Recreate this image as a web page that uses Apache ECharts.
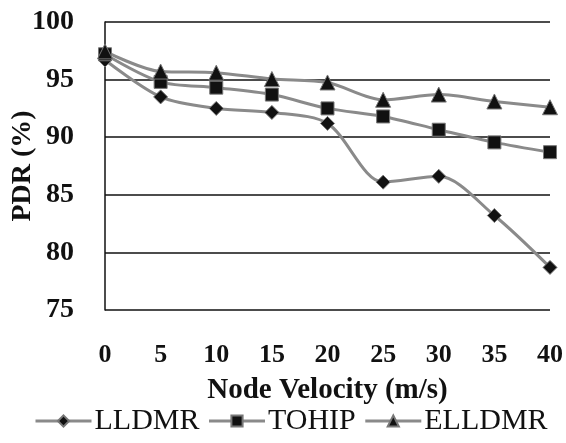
<!DOCTYPE html>
<html>
<head>
<meta charset="utf-8">
<script src="https://cdn.jsdelivr.net/npm/echarts@6/dist/echarts.min.js"></script>
<style>
  html, body { margin: 0; padding: 0; background: #fff; }
  #chart { width: 566px; height: 443px; }
</style>
</head>
<body>
<div id="chart"></div>
<script>
const velocities = ['0', '5', '10', '15', '20', '25', '30', '35', '40']
const lldmr = [96.7, 93.5, 92.5, 92.15, 91.2, 86.1, 86.6, 83.2, 78.7]
const tohip = [97.2, 94.8, 94.3, 93.7, 92.5, 91.8, 90.65, 89.55, 88.7]
const elldmr = [97.45, 95.7, 95.6, 95.05, 94.75, 93.25, 93.7, 93.1, 92.6]

const font = '"Liberation Serif", "Times New Roman", serif'

const chart = echarts.init(document.getElementById('chart'))

function lineSeries(name, data, symbol, size) {
  return {
    name,
    type: 'line',
    data,
    smooth: 0.3,
    symbol,
    symbolSize: size,
    lineStyle: { color: '#8a8a8a', width: 3 },
    itemStyle: { color: '#111', borderColor: '#777', borderWidth: 1 },
  }
}

chart.setOption({
  animation: false,
  backgroundColor: '#fff',
  grid: { left: 105, right: 16, top: 22, bottom: 133, outerBoundsMode: 'none' },
  xAxis: {
    type: 'category',
    data: velocities,
    boundaryGap: false,
    name: 'Node Velocity (m/s)',
    nameLocation: 'middle',
    nameGap: 66,
    nameMoveOverlap: false,
    nameTextStyle: { fontFamily: font, fontWeight: 'bold', fontSize: 29, color: '#111' },
    axisLine: { show: false },
    axisTick: { show: false },
    axisLabel: { margin: 32, fontFamily: font, fontWeight: 'bold', fontSize: 26, color: '#111' },
    splitLine: { show: false },
  },
  yAxis: {
    type: 'value',
    min: 75,
    max: 100,
    interval: 5,
    name: 'PDR (%)',
    nameLocation: 'middle',
    nameGap: 68,
    nameMoveOverlap: false,
    nameTextStyle: { fontFamily: font, fontWeight: 'bold', fontSize: 28, color: '#111' },
    axisLine: { show: true, lineStyle: { color: '#111', width: 1.5 } },
    axisTick: { show: false },
    axisLabel: { margin: 31, fontFamily: font, fontWeight: 'bold', fontSize: 28, color: '#111' },
    splitLine: { lineStyle: { color: '#111', width: 1.5 } },
  },
  legend: {
    bottom: 7,
    left: 34,
    width: 532,
    padding: 0,
    itemWidth: 56,
    itemHeight: 14,
    itemGap: 8,
    lineStyle: { width: 3, color: '#8a8a8a' },
    textStyle: { fontFamily: font, fontSize: 30, color: '#111', padding: [0, 0, 0, -2] },
    data: ['LLDMR', 'TOHIP', 'ELLDMR'],
  },
  series: [
    lineSeries('LLDMR', lldmr, 'diamond', 14),
    lineSeries('TOHIP', tohip, 'rect', 13),
    lineSeries('ELLDMR', elldmr, 'triangle', 15),
  ],
})
</script>
</body>
</html>
